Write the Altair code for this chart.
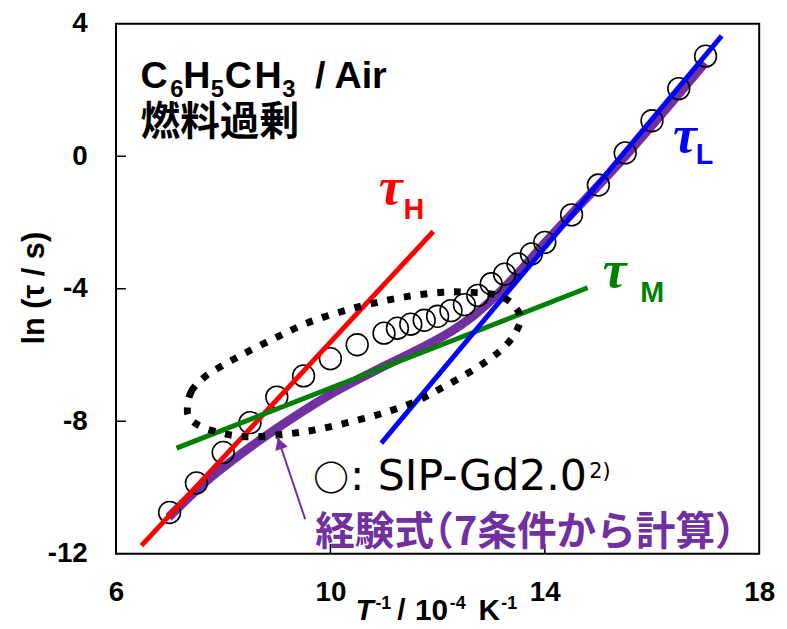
import altair as alt
import pandas as pd

# ---------------- data ----------------
inv_T = [7.0, 7.5, 8.0, 8.5, 9.0, 9.5, 10.0, 10.5, 11.0, 11.25, 11.5, 11.75, 12.0,
         12.25, 12.5, 12.75, 13.0, 13.25, 13.5, 13.75, 14.0, 14.5, 15.0, 15.5, 16.0,
         16.5, 17.0]
ln_tau = [-10.75, -9.86, -8.94, -8.04, -7.27, -6.63, -6.11, -5.69, -5.34, -5.19, -5.07,
          -4.95, -4.83, -4.66, -4.48, -4.20, -3.85, -3.56, -3.25, -2.95, -2.60, -1.77,
          -0.87, 0.10, 1.07, 2.04, 3.02]

emp_x = [6.98, 7.72, 8.51, 9.20, 10.07, 10.86, 11.60, 12.22, 12.71, 13.21, 13.64, 14.00,
         15.50, 16.99]
emp_y = [-10.90, -9.76, -8.77, -8.00, -7.12, -6.45, -5.86, -5.32, -4.76, -4.02, -3.28,
         -2.62, 0.00, 2.82]

tauH_x = [6.475, 11.92]
tauH_y = [-11.75, -2.27]
tauM_x = [7.13, 14.80]
tauM_y = [-8.81, -3.97]
tauL_x = [10.95, 17.30]
tauL_y = [-8.66, 3.63]

ell_x = [7.331, 7.405, 7.664, 8.053, 8.459, 9.014, 9.569, 10.179, 10.808, 11.473, 12.102,
         12.527, 13.027, 13.360, 13.545, 13.452, 13.230, 12.953, 12.527, 12.028, 11.603,
         11.048, 10.438, 9.809, 9.199, 8.515, 8.034, 7.609, 7.387]
ell_y = [-7.633, -7.095, -6.646, -6.257, -5.898, -5.450, -5.031, -4.702, -4.433, -4.223,
         -4.104, -4.104, -4.164, -4.403, -4.852, -5.330, -5.779, -6.138, -6.586, -7.035,
         -7.394, -7.722, -7.992, -8.231, -8.381, -8.470, -8.381, -8.171, -7.932]

arrow_x = [9.53, 9.013]
arrow_y = [-10.955, -8.47]
arrow_head = (9.054, -8.668)

x_ticks = [6, 10, 14, 18]
y_ticks = [4, 0, -4, -8, -12]
x_inner_ticks = [10, 14]
y_inner_ticks = [0, -4, -8]

# ---------------- styling ----------------
SANS = "Liberation Sans"
SERIF = "Liberation Serif"
CJK = "Noto Sans CJK JP"
LEG = "DejaVu Sans"
PURPLE = "#7030A0"

xs = alt.Scale(domain=[6, 18], nice=False, zero=False)
ys = alt.Scale(domain=[-12, 4], nice=False, zero=False)
ax_x = alt.Axis(values=x_ticks, title=None, grid=False, domain=False, ticks=False,
                labelFont=SANS, labelFontSize=28, labelFontWeight="bold", labelColor="black",
                labelPadding=25, labelFlush=False, labelExpr="'' + datum.value")
ax_y = alt.Axis(values=y_ticks, title=None, grid=False, domain=False, ticks=False,
                labelFont=SANS, labelFontSize=28, labelFontWeight="bold", labelColor="black",
                labelPadding=29, labelFlush=False, labelExpr="'' + datum.value")


def X(field):
    return alt.X(field, type="quantitative", scale=xs, axis=ax_x)


def Y(field):
    return alt.Y(field, type="quantitative", scale=ys, axis=ax_y)


def line(xv, yv, color, width, **kw):
    df = pd.DataFrame({"x": xv, "y": yv, "i": list(range(len(xv)))})
    return alt.Chart(df).mark_line(color=color, strokeWidth=width, **kw).encode(
        x=X("x"), y=Y("y"), order=alt.Order("i:Q"))


def txt(text, x, y, size, color="black", font=SANS, weight="bold", style="normal",
        dx=0, dy=0, angle=0, align="left", baseline="alphabetic"):
    df = pd.DataFrame({"t": [text], "x": [x], "y": [y]})
    return alt.Chart(df).mark_text(
        fontSize=size, color=color, font=font, fontWeight=weight, fontStyle=style,
        dx=dx, dy=dy, angle=angle, align=align, baseline=baseline
    ).encode(x=X("x"), y=Y("y"), text="t:N")


layers = []

# empirical curve (purple, under the symbols)
layers.append(line(emp_x, emp_y, PURPLE, 9, interpolate="monotone"))

# data symbols
pts = pd.DataFrame({"x": inv_T, "y": ln_tau})
layers.append(alt.Chart(pts).mark_point(shape="circle", filled=False, size=484,
                                        stroke="black", strokeWidth=1.6, opacity=1).encode(
    x=X("x"), y=Y("y")))

# fitted lines
layers.append(line(tauH_x, tauH_y, "#FF0000", 5))
layers.append(line(tauM_x, tauM_y, "#008000", 5))
layers.append(line(tauL_x, tauL_y, "#0000FF", 5))

# dotted ellipse
layers.append(line(ell_x, ell_y, "black", 7, interpolate="cardinal-closed",
                   strokeDash=[7, 10], strokeCap="butt"))

# arrow
layers.append(line(arrow_x, arrow_y, PURPLE, 2))
head = pd.DataFrame({"x": [arrow_head[0]], "y": [arrow_head[1]]})
layers.append(alt.Chart(head).mark_point(shape="triangle-up", filled=True, size=180,
                                         angle=341, color=PURPLE, opacity=1).encode(
    x=X("x"), y=Y("y")))

# inward ticks
xt = pd.DataFrame({"x": x_inner_ticks, "y": [-12] * len(x_inner_ticks)})
layers.append(alt.Chart(xt).mark_tick(orient="vertical", size=20, thickness=1.5,
                                      color="black", clip=True, opacity=1).encode(
    x=X("x"), y=Y("y")))
yt = pd.DataFrame({"x": [6] * len(y_inner_ticks), "y": y_inner_ticks})
layers.append(alt.Chart(yt).mark_tick(orient="horizontal", size=20, thickness=1.5,
                                      color="black", clip=True, opacity=1).encode(
    x=X("x"), y=Y("y")))

# ---------------- annotations ----------------
# C6H5CH3 / Air
ax0, ay0 = 6.457, 2.071
for t, dx, dy, sz in [("C", 0, 0, 38), ("6", 30, 9, 24), ("H", 43, 0, 38), ("5", 71, 9, 24),
                      ("C", 85, 0, 38), ("H", 115, 0, 38), ("3", 143, 9, 24),
                      ("/ Air", 176, 0, 38)]:
    layers.append(txt(t, ax0, ay0, sz, dx=dx, dy=dy))
layers.append(txt("燃料過剰", 6.457, 0.651, 40, font=CJK, weight="bold"))

# tau labels
layers.append(txt("τ", 10.90, -1.443, 54, color="#FF0000", font=SERIF, style="italic"))
layers.append(txt("H", 10.90, -1.443, 29, color="#FF0000", dx=25, dy=15))
layers.append(txt("τ", 15.08, -3.955, 54, color="#008000", font=SERIF, style="italic"))
layers.append(txt("M", 15.08, -3.955, 29, color="#008000", dx=38, dy=15))
layers.append(txt("τ", 16.39, 0.142, 54, color="#0000FF", font=SERIF, style="italic"))
layers.append(txt("L", 16.39, 0.142, 29, color="#0000FF", dx=23, dy=13))

# legend texts
layers.append(txt("○", 9.68, -10.10, 36, font=CJK, weight="bold"))
layers.append(txt(": SIP-Gd2.0", 10.364, -10.085, 43, font=LEG, weight="normal"))
layers.append(txt("2)", 14.83, -9.70, 21, font=LEG, weight="normal"))
layers.append(txt("経験式", 9.717, -11.73, 40, color=PURPLE, font=CJK, weight="bold"))
layers.append(txt("（7条件から計算）", 11.566, -11.73, 40, color=PURPLE, font=CJK, weight="bold"))

# axis titles
layers.append(txt("ln (τ / s)", 4.484, -3.984, 31, angle=270, align="center", baseline="middle"))
tx0, ty0 = 10.47, -14.0
for t, dx, dy, sz, st in [("T", 0, 0, 30, "italic"), ("-1", 20, -11, 18, "normal"),
                          ("/", 42, 0, 30, "normal"), ("10", 60, 0, 30, "normal"),
                          ("-4", 95, -11, 18, "normal"),
                          ("K", 124, 0, 30, "normal"), ("-1", 147, -11, 18, "normal")]:
    layers.append(txt(t, tx0, ty0, sz, style=st, dx=dx, dy=dy))

chart = alt.layer(*layers).properties(
    width=649, height=535,
    padding={"left": 109, "top": 13, "right": 20, "bottom": 72},
    autosize=alt.AutoSizeParams(type="none"),
    background="white",
).configure_view(stroke="black", strokeWidth=2)

chart.save("out.html", embed_options={"renderer": "svg", "actions": False})
